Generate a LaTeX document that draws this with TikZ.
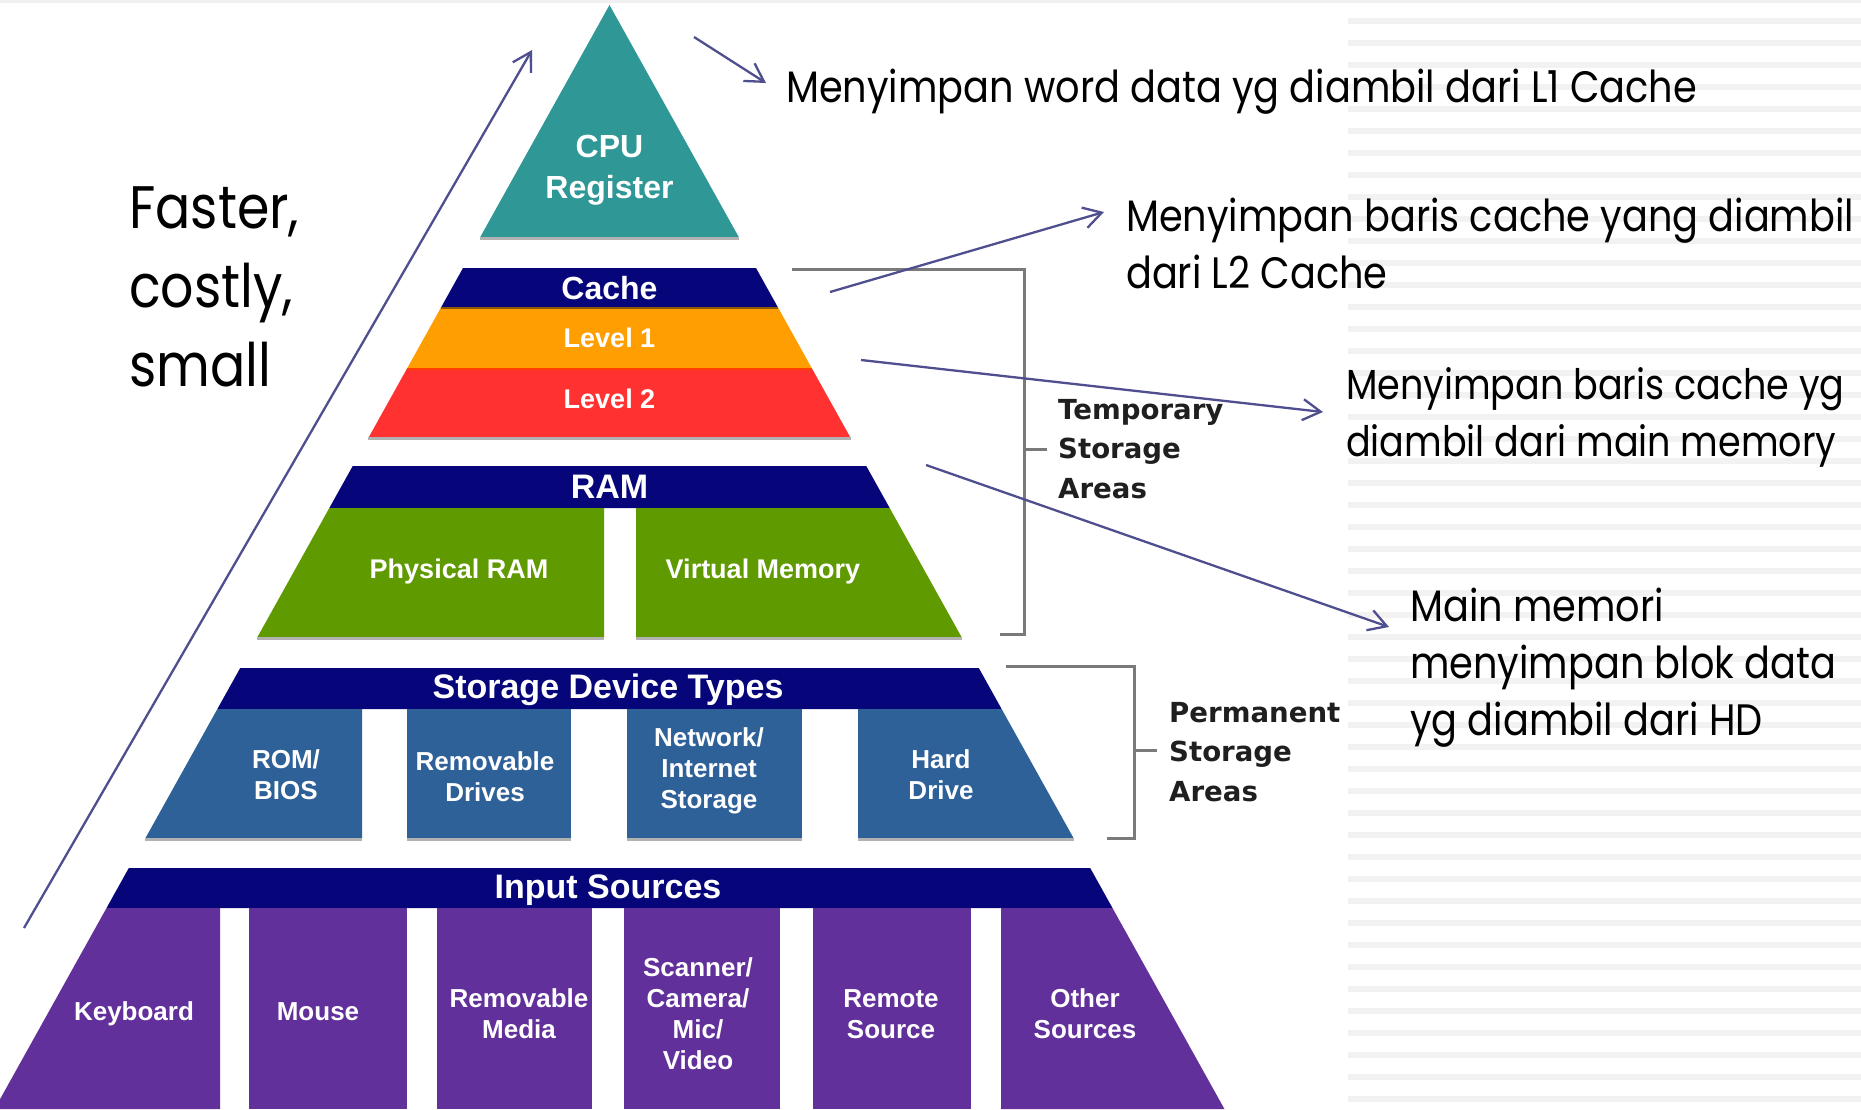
\documentclass[tikz,border=0pt]{standalone}
\usepackage{fontspec}
\usetikzlibrary{arrows.meta}
\newfontfamily\annotfont[FakeStretch=0.87]{Poppins}
\newfontfamily\pyrfont{Liberation Sans}
\newfontfamily\sidefont{DejaVu Sans}
\definecolor{tealA}{HTML}{2F9896}
\definecolor{navyA}{HTML}{06067A}
\definecolor{orangeA}{HTML}{FF9E00}
\definecolor{redA}{HTML}{FF3131}
\definecolor{greenA}{HTML}{5F9A00}
\definecolor{blueA}{HTML}{2F6199}
\definecolor{purpleA}{HTML}{62309A}
\definecolor{arrowA}{HTML}{4F4F8F}
\definecolor{bracketA}{HTML}{7A7A7A}
\definecolor{stripeA}{HTML}{F2F2F2}
\newcommand\pxl[1]{609.5-(#1-5)*0.557}
\newcommand\pxr[1]{609.5+(#1-5)*0.557}
\tikzset{
  ptxt/.style={text=white, font=\pyrfont\bfseries\fontsize{26}{31}\selectfont, align=center, inner sep=0},
  ttl/.style={text=white, font=\pyrfont\bfseries\fontsize{34}{40}\selectfont, align=center, inner sep=0},
  ann/.style={font=\annotfont\fontsize{44}{57}\selectfont, anchor=base west, align=left, inner sep=0, text=black},
  side/.style={font=\sidefont\bfseries\fontsize{27.6}{39.5}\selectfont, text=black!88, anchor=base west, align=left, inner sep=0},
  arr/.style={draw=arrowA, line width=2.3pt, -{Straight Barb[length=18pt,width=21pt]}},
  brk/.style={draw=bracketA, line width=3pt},
  shade/.style={draw=black!30, line width=2.5pt}
}
\begin{document}
\begin{tikzpicture}[x=1pt,y=-1pt]
\useasboundingbox (0,0) rectangle (1861,1109);
\fill[white] (0,0) rectangle (1861,1109);
% background stripes
\fill[black!6] (0,0) rectangle (1861,2.5);
\foreach \k in {0,...,49} \fill[stripeA] (1348,{18+22*\k}) rectangle (1861,{24+22*\k});
% CPU triangle
\fill[tealA] (609.5,5) -- ({\pxr{237}},237) -- ({\pxl{237}},237) -- cycle;
\draw[shade] ({\pxl{238}},238.5) -- ({\pxr{238}},238.5);
% cache
\fill[navyA] ({\pxl{268}},268) -- ({\pxr{268}},268) -- ({\pxr{308}},308) -- ({\pxl{308}},308) -- cycle;
\fill[orangeA] ({\pxl{308}},308) -- ({\pxr{308}},308) -- ({\pxr{369}},369) -- ({\pxl{369}},369) -- cycle;
\fill[redA] ({\pxl{369}},369) -- ({\pxr{369}},369) -- ({\pxr{437}},437) -- ({\pxl{437}},437) -- cycle;
\draw[draw=black!45!orangeA, line width=2pt] ({\pxl{308}},308) -- ({\pxr{308}},308);
\draw[draw=red!60!orangeA, line width=2pt] ({\pxl{369}},369) -- ({\pxr{369}},369);
\draw[shade] ({\pxl{438}},438.5) -- ({\pxr{438}},438.5);
% RAM
\fill[navyA] ({\pxl{466}},466) -- ({\pxr{466}},466) -- ({\pxr{508}},508) -- ({\pxl{508}},508) -- cycle;
\fill[greenA] ({\pxl{508}},508) -- (604,508) -- (604,637) -- ({\pxl{637}},637) -- cycle;
\fill[greenA] (636,508) -- ({\pxr{508}},508) -- ({\pxr{637}},637) -- (636,637) -- cycle;
\draw[shade] ({\pxl{638}},638.5) -- (604,638.5);
\draw[shade] (636,638.5) -- ({\pxr{638}},638.5);
% Storage
\fill[navyA] ({\pxl{668}},668) -- ({\pxr{668}},668) -- ({\pxr{709}},709) -- ({\pxl{709}},709) -- cycle;
\fill[blueA] ({\pxl{709}},709) -- (362,709) -- (362,838) -- ({\pxl{838}},838) -- cycle;
\fill[blueA] (407,709) rectangle (571,838);
\fill[blueA] (627,709) rectangle (802,838);
\fill[blueA] (858,709) -- ({\pxr{709}},709) -- ({\pxr{838}},838) -- (858,838) -- cycle;
\draw[shade] ({\pxl{839}},839.5) -- (362,839.5) (407,839.5) -- (571,839.5) (627,839.5) -- (802,839.5) (858,839.5) -- ({\pxr{839}},839.5);
% Input
\fill[navyA] ({\pxl{868}},868) -- ({\pxr{868}},868) -- ({\pxr{908}},908) -- ({\pxl{908}},908) -- cycle;
\fill[purpleA] ({\pxl{908}},908) -- (220,908) -- (220,1109) -- ({\pxl{1109}},1109) -- cycle;
\fill[purpleA] (249,908) rectangle (407,1109);
\fill[purpleA] (437,908) rectangle (592,1109);
\fill[purpleA] (624,908) rectangle (780,1109);
\fill[purpleA] (813,908) rectangle (971,1109);
\fill[purpleA] (1001,908) -- ({\pxr{908}},908) -- ({\pxr{1109}},1109) -- (1001,1109) -- cycle;
% pyramid labels
\node[ptxt, font=\pyrfont\bfseries\fontsize{32}{41}\selectfont] (cpu) at (609.5,170) {CPU\\Register};
\node[ttl, font=\pyrfont\bfseries\fontsize{32}{40}\selectfont] (cache) at (609.5,288) {Cache};
\node[ptxt, font=\pyrfont\bfseries\fontsize{27}{31}\selectfont] (l1) at (609.5,338) {Level 1};
\node[ptxt, font=\pyrfont\bfseries\fontsize{27}{31}\selectfont] (l2) at (609.5,399) {Level 2};
\node[ttl] (ram) at (609.5,487) {RAM};
\node[ptxt, font=\pyrfont\bfseries\fontsize{27}{31}\selectfont] (phys) at (459,572) {Physical RAM};
\node[ptxt, font=\pyrfont\bfseries\fontsize{27}{31}\selectfont] (virt) at (763,572) {Virtual Memory};
\node[ttl] (stor) at (608,690) {Storage Device Types};
\node[ptxt] (rom) at (286,775) {ROM/\\BIOS};
\node[ptxt] (remd) at (485,777) {Removable\\Drives};
\node[ptxt] (net) at (709,771) {Network/\\Internet\\Storage};
\node[ptxt] (hard) at (941,775) {Hard\\Drive};
\node[ttl] (input) at (608,890) {Input Sources};
\node[ptxt] (kb) at (134,1014) {Keyboard};
\node[ptxt] (mouse) at (318,1012) {Mouse};
\node[ptxt] (remm) at (519,1014) {Removable\\Media};
\node[ptxt] (scan) at (698,1014) {Scanner/\\Camera/\\Mic/\\Video};
\node[ptxt] (remote) at (891,1014) {Remote\\Source};
\node[ptxt] (other) at (1085,1014) {Other\\Sources};
% brackets
\draw[brk] (792,269) -- (1024,269) -- (1024,634) -- (1000,634);
\draw[brk] (1024,449) -- (1047,449);
\draw[brk] (1006,666) -- (1134,666) -- (1134,838) -- (1107,838);
\draw[brk] (1134,750) -- (1157,750);
\node[side] (temp) at (1058,498) {Temporary\\Storage\\Areas};
\node[side] (perm) at (1169,801) {Permanent\\Storage\\Areas};
% annotation texts
\node[ann, font=\annotfont\fontsize{60}{79}\selectfont] (fast) at (129,386) {Faster,\\costly,\\small};
\node[ann] (t1) at (786,102) {Menyimpan word data yg diambil dari L1 Cache};
\node[ann] (t2) at (1126,288) {Menyimpan baris cache yang diambil\\dari L2 Cache};
\node[ann, font=\annotfont\fontsize{42}{57}\selectfont] (t3) at (1346,456) {Menyimpan baris cache yg\\diambil dari main memory};
\node[ann] (t4) at (1410,735) {Main memori\\menyimpan blok data\\yg diambil dari HD};
% arrows
\coordinate (b0) at (24,928); \coordinate (b1) at (532,50);
\coordinate (a1s) at (694,37); \coordinate (a1e) at (766,83);
\coordinate (a2s) at (830,292); \coordinate (a2e) at (1104,212);
\coordinate (a3s) at (861,360); \coordinate (a3e) at (1323,412);
\coordinate (a4s) at (926,465); \coordinate (a4e) at (1389,627);
\draw[arr] (b0) -- (b1);
\draw[arr] (a1s) -- (a1e);
\draw[arr] (a2s) -- (a2e);
\draw[arr] (a3s) -- (a3e);
\draw[arr] (a4s) -- (a4e);
\end{tikzpicture}
\end{document}
